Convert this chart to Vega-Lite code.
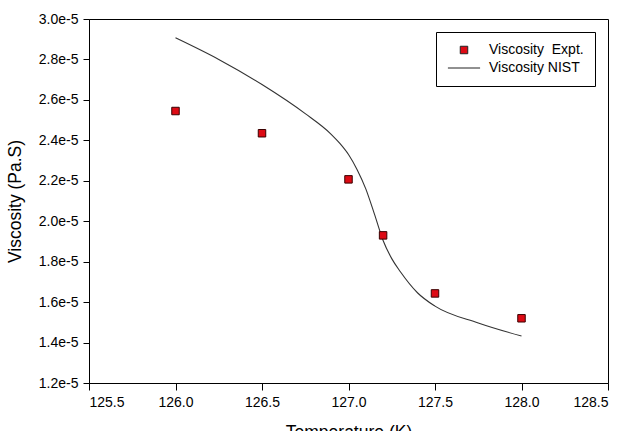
{
  "$schema": "https://vega.github.io/schema/vega-lite/v6.json",
  "autosize": "none",
  "width": 519,
  "height": 364,
  "padding": {"left": 89, "top": 19, "right": 28, "bottom": 48},
  "background": "white",
  "config": {
    "font": "Liberation Sans",
    "view": {"stroke": "black", "strokeWidth": 1},
    "axis": {
      "grid": false,
      "domainColor": "black",
      "tickColor": "black",
      "labelColor": "black",
      "titleColor": "black",
      "labelFontSize": 14,
      "titleFontSize": 17.5,
      "titleFontWeight": "normal",
      "tickSize": 6,
      "labelFont": "Liberation Sans",
      "titleFont": "Liberation Sans"
    }
  },
  "datasets": {
    "expt": [
      {"T": 126.0, "V": 0.00002545, "series": "Viscosity\u00a0 Expt."},
      {"T": 126.5, "V": 0.00002435, "series": "Viscosity\u00a0 Expt."},
      {"T": 127.0, "V": 0.00002207, "series": "Viscosity\u00a0 Expt."},
      {"T": 127.2, "V": 0.0000193, "series": "Viscosity\u00a0 Expt."},
      {"T": 127.5, "V": 0.00001643, "series": "Viscosity\u00a0 Expt."},
      {"T": 128.0, "V": 0.0000152, "series": "Viscosity\u00a0 Expt."}
    ],
    "nist": [
      {"T": 126.0, "V": 0.00002907},
      {"T": 126.25, "V": 0.000028},
      {"T": 126.5, "V": 0.00002676},
      {"T": 126.75, "V": 0.00002532},
      {"T": 126.9, "V": 0.0000243},
      {"T": 126.95, "V": 0.00002385},
      {"T": 127.0, "V": 0.0000233},
      {"T": 127.05, "V": 0.00002255},
      {"T": 127.1, "V": 0.0000216},
      {"T": 127.15, "V": 0.00002035},
      {"T": 127.2, "V": 0.00001905},
      {"T": 127.25, "V": 0.00001815},
      {"T": 127.3, "V": 0.0000175},
      {"T": 127.4, "V": 0.00001645},
      {"T": 127.5, "V": 0.0000158},
      {"T": 127.75, "V": 0.00001497},
      {"T": 128.0, "V": 0.00001432}
    ]
  },
  "layer": [
    {
      "data": {"name": "nist"},
      "mark": {"type": "line", "color": "#333333", "strokeWidth": 1.1, "interpolate": "monotone"},
      "encoding": {
        "x": {
          "field": "T", "type": "quantitative",
          "scale": {"domain": [125.5, 128.5], "nice": false, "zero": false},
          "axis": {
            "values": [125.5, 126.0, 126.5, 127.0, 127.5, 128.0, 128.5],
            "format": ".1f",
            "tickSize": 7,
            "labelPadding": 5,
            "title": "Temperature (K)",
            "titleY": 40,
            "titleBaseline": "top"
          }
        },
        "y": {
          "field": "V", "type": "quantitative",
          "scale": {"domain": [0.000012, 0.00003], "nice": false, "zero": false},
          "axis": {
            "values": [0.000012, 0.000014, 0.000016, 0.000018, 0.00002, 0.000022, 0.000024, 0.000026, 0.000028, 0.00003],
            "format": ".1e",
            "tickSize": 6,
            "labelPadding": 5,
            "title": "Viscosity (Pa.S)",
            "titleAngle": -90,
            "titleX": -74,
            "titleY": 182,
            "titleAlign": "center",
            "titleBaseline": "middle"
          }
        }
      }
    },
    {
      "data": {"name": "expt"},
      "mark": {"type": "point", "filled": true, "stroke": "#3a0000", "strokeWidth": 1, "size": 56, "opacity": 1},
      "encoding": {
        "x": {"field": "T", "type": "quantitative"},
        "y": {"field": "V", "type": "quantitative"},
        "shape": {
          "field": "series", "type": "nominal",
          "scale": {"domain": ["Viscosity\u00a0 Expt.", "Viscosity NIST"], "range": ["square", "M-4.3,0H4.3"]},
          "legend": null
        },
        "color": {
          "field": "series", "type": "nominal",
          "scale": {"domain": ["Viscosity\u00a0 Expt.", "Viscosity NIST"], "range": ["#dd0a14", "#000000"]},
          "legend": {
            "title": null,
            "orient": "none",
            "legendX": 347,
            "legendY": 13,
            "strokeColor": "black",
            "fillColor": "white",
            "padding": 11,
            "symbolOffset": 10,
            "labelOffset": 18,
            "labelFontSize": 14,
            "labelColor": "black",
            "labelFont": "Liberation Sans",
            "symbolSize": 56,
            "symbolStrokeColor": "#222222",
            "symbolStrokeWidth": 1,
            "rowPadding": 4,
            "symbolType": "square"
          }
        }
      }
    }
  ]
}
